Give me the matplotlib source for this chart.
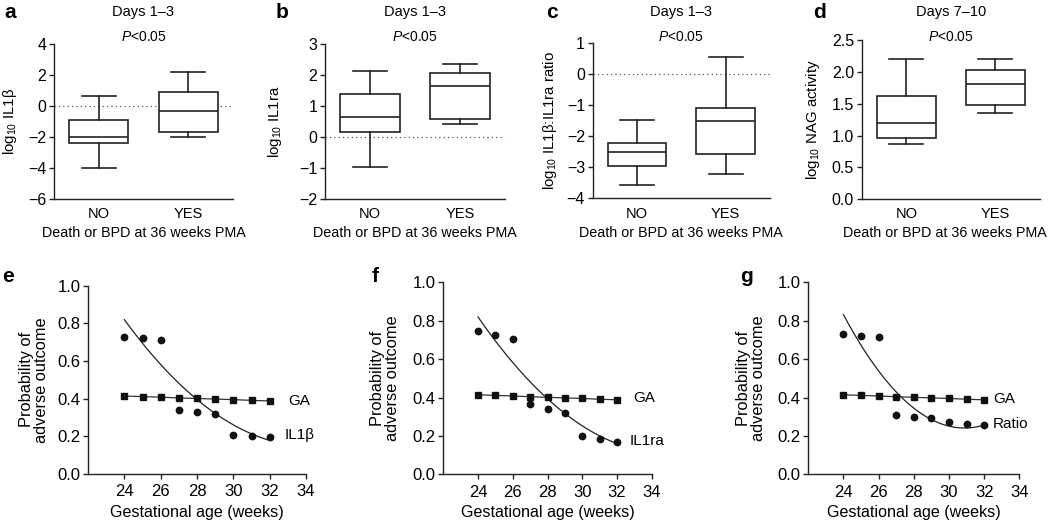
import numpy as np
import matplotlib
matplotlib.use("Agg")
import matplotlib.pyplot as plt

plt.rcParams['font.family'] = ['Liberation Sans', 'DejaVu Sans']
plt.rcParams['mathtext.fontset'] = 'custom'
plt.rcParams['mathtext.rm'] = 'Liberation Sans'
plt.rcParams['mathtext.it'] = 'Liberation Sans:italic'
plt.rcParams['axes.unicode_minus'] = True

# ---------------- data ----------------
categories = ["NO", "YES"]
# box stats: [whislo, q1, median, q3, whishi]
a_no = [-4.0, -2.37, -2.02, -0.93, 0.65]
a_yes = [-2.03, -1.70, -0.34, 0.90, 2.22]
b_no = [-0.96, 0.17, 0.66, 1.40, 2.13]
b_yes = [0.43, 0.57, 1.63, 2.05, 2.35]
c_no = [-3.58, -2.96, -2.51, -2.20, -1.49]
c_yes = [-3.20, -2.56, -1.51, -1.10, 0.57]
d_no = [0.87, 0.96, 1.19, 1.62, 2.21]
d_yes = [1.36, 1.48, 1.81, 2.03, 2.21]

ga_weeks = [24, 25, 26, 27, 28, 29, 30, 31, 32]
ga_prob = [0.414, 0.411, 0.408, 0.404, 0.401, 0.398, 0.395, 0.391, 0.388]
e_prob = [0.729, 0.722, 0.713, 0.338, 0.329, 0.320, 0.209, 0.202, 0.195]
f_prob = [0.745, 0.724, 0.703, 0.365, 0.340, 0.319, 0.201, 0.186, 0.168]
g_prob = [0.729, 0.720, 0.714, 0.307, 0.300, 0.292, 0.271, 0.262, 0.255]
# fitted curve read at these weeks
fit_weeks = [24, 26, 28, 30, 32]
e_fit = [0.818, 0.585, 0.395, 0.258, 0.180]
f_fit = [0.820, 0.580, 0.395, 0.252, 0.160]
g_fit = [0.830, 0.540, 0.345, 0.248, 0.258]

W, H = 1050, 522
fig = plt.figure(figsize=(W / 100, H / 100), dpi=100)
fig.patch.set_facecolor('white')


def ax_px(left, top, right, bottom):
    return fig.add_axes([left / W, 1 - bottom / H, (right - left) / W, (bottom - top) / H])


def style(ax, tick_fs):
    for s in ['top', 'right']:
        ax.spines[s].set_visible(False)
    for s in ['left', 'bottom']:
        ax.spines[s].set_linewidth(1.0)
        ax.spines[s].set_color('#222222')
    ax.tick_params(axis='both', labelsize=tick_fs, width=1.0, length=3.5, color='#222222',
                   direction='out', pad=2)


FS = 10.3

# ---------------- top box plots ----------------
top_specs = [
    ('a', (54, 44, 233, 199), a_no, a_yes, (-6, 4), np.arange(-6, 5, 2), 'log$_{10}$ IL1β',
     'Days 1–3', True, 10, '{:.0f}', 143.5),
    ('b', (325, 44, 505, 199), b_no, b_yes, (-2, 3), np.arange(-2, 4, 1), 'log$_{10}$ IL1ra',
     'Days 1–3', True, 275, '{:.0f}', 415),
    ('c', (592.7, 43.3, 770, 198.3), c_no, c_yes, (-4, 1), np.arange(-4, 2, 1),
     'log$_{10}$ IL1β:IL1ra ratio', 'Days 1–3', True, 550, '{:.0f}', 681),
    ('d', (861.7, 40.3, 1040, 199), d_no, d_yes, (0, 2.5), np.arange(0, 2.51, 0.5),
     'log$_{10}$ NAG activity', 'Days 7–10', False, 813, '{:.1f}', 945),
]
letter_x = {'a': 4, 'b': 276, 'c': 546, 'd': 813}

for letter, box, no, yes, ylim, yticks, ylab, title, zero, ylab_x, fmt, xl_c in top_specs:
    ax = ax_px(*box)
    style(ax, 11.5)
    stats = []
    for vals, lab in zip([no, yes], categories):
        stats.append(dict(whislo=vals[0], q1=vals[1], med=vals[2], q3=vals[3], whishi=vals[4],
                          label=lab, fliers=[]))
    lp = dict(color='#222222', linewidth=1.2)
    ax.bxp(stats, positions=[1, 2], widths=0.66, capwidths=0.38, showfliers=False,
           patch_artist=True,
           boxprops=dict(facecolor='white', edgecolor='#222222', linewidth=1.2),
           medianprops=lp, whiskerprops=lp, capprops=lp)
    if zero:
        ax.axhline(0, color='#555555', linestyle=(0, (1, 2.5)), linewidth=0.9, zorder=0)
    ax.set_xlim(0.5, 2.5)
    ax.set_ylim(*ylim)
    ax.set_yticks(yticks)
    ax.set_yticklabels([fmt.format(v).replace('-', '\u2212') for v in yticks])
    ax.tick_params(axis='x', length=0, pad=6, labelsize=10.5)
    ax.set_xticks([1, 2])
    ax.set_xticklabels(categories)
    l, t, r, b = box
    ax.set_ylabel(ylab, fontsize=10.8)
    ax.yaxis.set_label_coords((ylab_x - l) / (r - l), 0.5)
    ax.yaxis.label.set_va('center')
    ax.set_xlabel('Death or BPD at 36 weeks PMA', fontsize=FS)
    ax.xaxis.set_label_coords((xl_c - l) / (r - l), -(233 - b) / (b - t))
    ax.xaxis.label.set_va('center')
    cx = (l + r) / 2 / W
    fig.text(cx, 1 - 12 / H, title, ha='center', va='center', fontsize=10.5)
    fig.text(cx, 1 - 37 / H, '$P$<0.05', ha='center', va='center', fontsize=10)
    fig.text(letter_x[letter] / W, 1 - 12 / H, letter, ha='left', va='center',
             fontsize=15, fontweight='bold')

# ---------------- bottom probability plots ----------------
bottom_specs = [
    ('e', (88, 285.7, 306, 474), e_prob, e_fit, 'IL1β', 33.0, 32.84, 0.39, 0.205, 34, 2),
    ('f', (443.3, 282.3, 651.7, 474.3), f_prob, f_fit, 'IL1ra', 32.93, 32.74, 0.396, 0.174, 385, 372),
    ('g', (808.3, 282.3, 1019.3, 474.3), g_prob, g_fit, 'Ratio', 32.5, 32.5, 0.39, 0.264, 751, 740),
]

for letter, box, prob, fit, lab, gax, labx, gay, laby, ylab_x, let_x in bottom_specs:
    ax = ax_px(*box)
    style(ax, 12)
    ax.plot(ga_weeks, ga_prob, color='#333333', linewidth=0.9, marker='s', markersize=4.6,
            markerfacecolor='#111111', markeredgecolor='#111111', zorder=3)
    ax.plot(ga_weeks, prob, linestyle='none', marker='o', markersize=4.6,
            color='#111111', zorder=3)
    coef = np.polyfit(fit_weeks, fit, 2)
    xs = np.linspace(fit_weeks[0], fit_weeks[-1], 200)
    ax.plot(xs, np.polyval(coef, xs), color='#222222', linewidth=0.9, zorder=2)
    ax.set_xlim(22, 34)
    ax.set_ylim(0, 1.0)
    ax.set_xticks(np.arange(24, 35, 2))
    ax.set_yticks(np.arange(0, 1.01, 0.2))
    ax.set_yticklabels(['{:.1f}'.format(v) for v in np.arange(0, 1.01, 0.2)])
    ax.tick_params(axis='x', pad=4)
    ax.text(gax, gay, 'GA', fontsize=11, ha='left', va='center')
    ax.text(labx, laby, lab, fontsize=11, ha='left', va='center')
    l, t, r, b = box
    ax.set_ylabel('Probability of\nadverse outcome', fontsize=11.8, linespacing=1.05)
    ax.yaxis.set_label_coords((ylab_x - l) / (r - l), 0.5)
    ax.yaxis.label.set_va('center')
    ax.set_xlabel('Gestational age (weeks)', fontsize=11.6)
    ax.xaxis.set_label_coords(0.5, -(513 - b) / (b - t))
    ax.xaxis.label.set_va('center')
    fig.text(let_x / W, 1 - 276 / H, letter, ha='left', va='center',
             fontsize=15, fontweight='bold')

fig.savefig('out.png', dpi=100, facecolor='white')
